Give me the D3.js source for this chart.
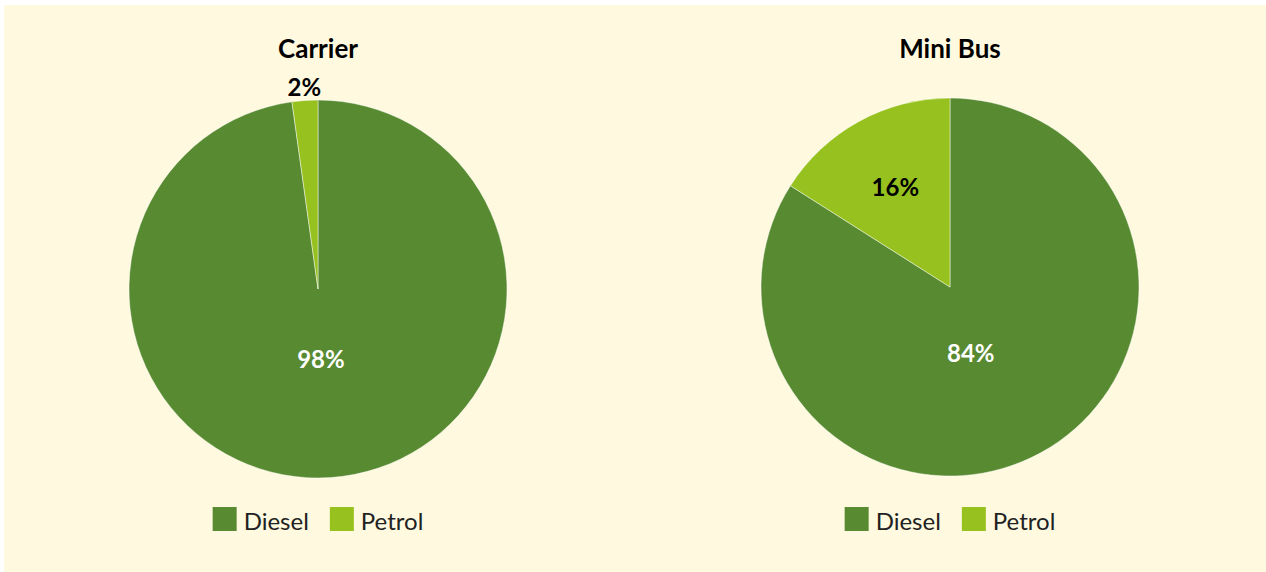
<!DOCTYPE html>
<html>
<head>
<meta charset="utf-8">
<script src="https://cdn.jsdelivr.net/npm/d3@7/dist/d3.min.js"></script>
<style>
  html, body { margin: 0; padding: 0; background: #ffffff; }
  svg { display: block; }
</style>
</head>
<body>
<svg id="chart" width="1266" height="572"></svg>
<script>
// ---- Data ----
const categories = ["Diesel", "Petrol"];
const chartTitles = ["Carrier", "Mini Bus"];
const carrierValues = [97.8, 2.2];
const miniBusValues = [84, 16];
const percentLabels = [["98%", "2%"], ["84%", "16%"]];

// ---- Styles ----
const colors = d3.scaleOrdinal().domain(categories).range(["#588a32", "#96c11f"]);
const fontFamily = "Lato, 'Open Sans', sans-serif";

const svg = d3.select("#chart");
svg.append("rect").attr("x", 4).attr("y", 5).attr("width", 1262).attr("height", 567)
  .attr("fill", "#fffadf");

const panels = [
  { title: chartTitles[0], values: carrierValues, labels: percentLabels[0], cx: 318, cy: 289 },
  { title: chartTitles[1], values: miniBusValues, labels: percentLabels[1], cx: 950, cy: 287 }
];
const R = 189;

const pie = d3.pie().sort(null).value(d => d.value);
const arc = d3.arc().innerRadius(0).outerRadius(R);

panels.forEach(p => {
  const g = svg.append("g").attr("transform", `translate(${p.cx},${p.cy})`);
  const data = categories.map((c, i) => ({ cat: c, value: p.values[i], label: p.labels[i] }));
  const arcs = pie(data);
  const frac = d => (d.endAngle - d.startAngle) / (2 * Math.PI);

  g.selectAll("path.slice").data(arcs).enter().append("path")
    .attr("class", "slice")
    .attr("d", arc)
    .attr("fill", d => colors(d.data.cat))
    .attr("stroke", "rgba(255,255,255,0.45)")
    .attr("stroke-width", 1);

  // labels
  g.selectAll("text.lbl").data(arcs).enter().append("text")
    .attr("class", "lbl")
    .attr("transform", d => {
      let r, a = (d.startAngle + d.endAngle) / 2;
      if (frac(d) < 0.05) r = R + 8;
      else if (frac(d) > 0.5) { r = R * 0.37; a = a + (Math.PI - a) * 0.4; }
      else r = R * 0.6;
      return `translate(${Math.sin(a) * r},${-Math.cos(a) * r})`;
    })
    .attr("text-anchor", "middle")
    .attr("dy", d => frac(d) < 0.05 ? "0.15em" : "0.36em")
    .attr("font-family", fontFamily)
    .attr("font-weight", "bold")
    .attr("font-size", 24)
    .attr("fill", d => frac(d) > 0.5 ? "#ffffff" : "#000000")
    .text(d => d.data.label);

  // title
  svg.append("text")
    .attr("x", p.cx).attr("y", 58)
    .attr("text-anchor", "middle")
    .attr("font-family", fontFamily)
    .attr("font-weight", "bold")
    .attr("font-size", 26)
    .attr("fill", "#000")
    .text(p.title);

  // legend
  const lg = svg.append("g");
  let x = 0;
  categories.forEach((c, i) => {
    const item = lg.append("g").attr("transform", `translate(${x},0)`);
    item.append("rect").attr("x", 0).attr("y", 0).attr("width", 24).attr("height", 24)
      .attr("fill", colors(c));
    const t = item.append("text").attr("x", 31).attr("y", 23)
      .attr("font-family", fontFamily)
      .attr("font-size", 24)
      .attr("fill", "#222")
      .text(c);
    x += 31 + t.node().getComputedTextLength() + 21;
  });
  const totalW = x - 21;
  lg.attr("transform", `translate(${p.cx - totalW / 2},507)`);
});
</script>
</body>
</html>
